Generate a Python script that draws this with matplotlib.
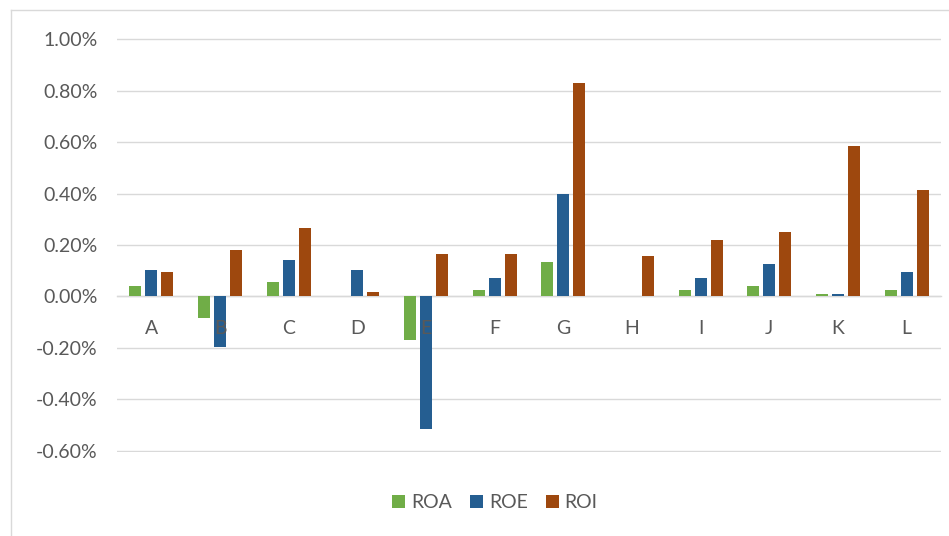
import matplotlib
matplotlib.use('Agg')
import matplotlib.pyplot as plt
from matplotlib.patches import Patch
from matplotlib.lines import Line2D
import numpy as np

plt.rcParams['font.family'] = ['Lato', 'DejaVu Sans']

# values in percent
categories = ['A', 'B', 'C', 'D', 'E', 'F', 'G', 'H', 'I', 'J', 'K', 'L']
roa = [0.041, -0.082, 0.057, 0.0, -0.168, 0.026, 0.134, 0.0, 0.026, 0.041, 0.010, 0.026]
roe = [0.103, -0.198, 0.142, 0.103, -0.516, 0.072, 0.397, 0.0, 0.072, 0.126, 0.010, 0.096]
roi = [0.096, 0.181, 0.266, 0.018, 0.165, 0.165, 0.830, 0.157, 0.219, 0.250, 0.583, 0.413]
yticks = [-0.6, -0.4, -0.2, 0.0, 0.2, 0.4, 0.6, 0.8, 1.0]

colors = {'ROA': '#70AD47', 'ROE': '#255E91', 'ROI': '#9E480E'}
grid_col = '#D9D9D9'
text_col = '#595959'

W, H = 949, 536
fig = plt.figure(figsize=(W / 100, H / 100), dpi=100)
ax = fig.add_axes([117 / W, 1 - 452 / H, (941 - 117) / W, (452 - 38) / H])

x = np.arange(len(categories))
bw = 0.175
step = 0.233
ax.bar(x - step, roa, bw, color=colors['ROA'], zorder=3)
ax.bar(x, roe, bw, color=colors['ROE'], zorder=3)
ax.bar(x + step, roi, bw, color=colors['ROI'], zorder=3)

ax.set_xlim(-0.5, len(categories) - 0.5)
ax.set_ylim(-0.604, 1.004)
ax.set_yticks(yticks)
ax.set_yticklabels([f'{v:.2f}%' for v in yticks])
ax.set_xticks(x)
ax.set_xticklabels(categories)

ax.yaxis.grid(True, color=grid_col, linewidth=1.0, zorder=0)
ax.xaxis.set_zorder(5)
for s in ['top', 'right', 'left']:
    ax.spines[s].set_visible(False)
ax.spines['bottom'].set_position(('data', 0))
ax.spines['bottom'].set_color(grid_col)
ax.spines['bottom'].set_linewidth(1.0)
ax.spines['bottom'].set_zorder(2)
ax.tick_params(axis='both', length=0, colors=text_col, labelsize=14)
ax.tick_params(axis='x', pad=17)
ax.tick_params(axis='y', pad=14)

handles = [Patch(facecolor=colors[k], label=k) for k in ['ROA', 'ROE', 'ROI']]
fig.legend(handles=handles, loc='center', bbox_to_anchor=(495 / W, 1 - 503 / H),
           ncol=3, frameon=False, fontsize=14, labelcolor=text_col,
           handlelength=0.67, handleheight=0.67, handletextpad=0.3,
           columnspacing=0.93)

# chart border (left and top edges are visible)
fig.add_artist(Line2D([11 / W, 11 / W], [0, 1 - 10 / H], color=grid_col, linewidth=1.0))
fig.add_artist(Line2D([11 / W, 1], [1 - 10 / H, 1 - 10 / H], color=grid_col, linewidth=1.0))

fig.savefig('out.png', dpi=100)
